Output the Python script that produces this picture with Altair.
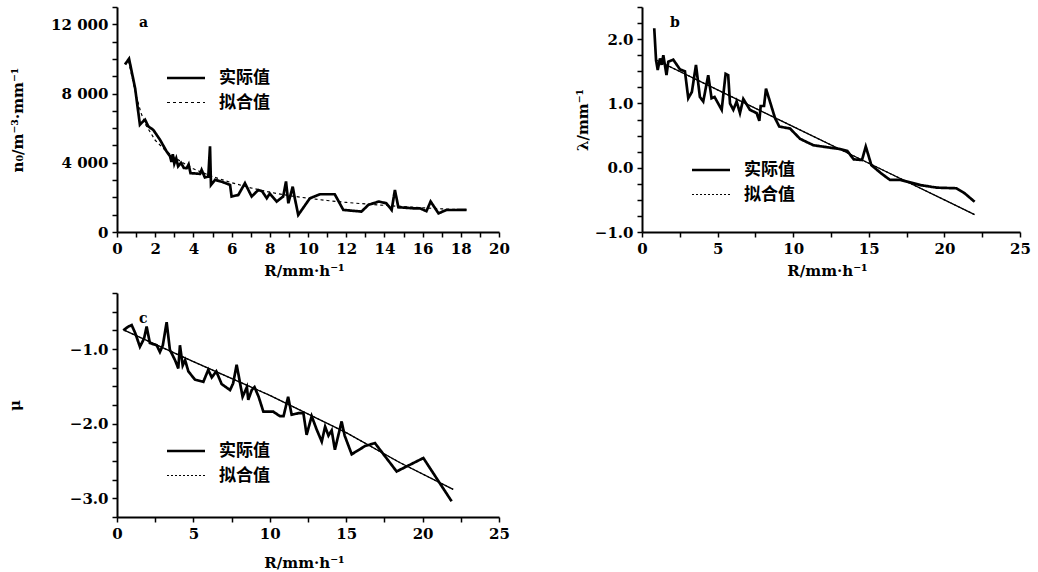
import altair as alt
import pandas as pd

ACT = "实际值"
FIT = "拟合值"

# ---- panel a : n0 vs R ----
a_R = [0.42, 0.63, 0.95, 1.2, 1.33, 1.47, 1.64, 1.9, 2.25, 2.6, 2.78, 2.85, 2.92, 3.0, 3.1, 3.2, 3.35, 3.5, 3.65, 3.75,
       3.85, 4.35, 4.43, 4.6, 4.78, 4.87, 4.92, 5.13, 5.5, 5.92, 6.0, 6.35, 6.7, 7.05, 7.4, 7.6, 7.84, 8.0, 8.36, 8.7,
       8.85, 8.97, 9.2, 9.3, 9.49, 10.1, 10.63, 11.4, 11.85, 12.8, 13.16, 13.7, 14.1, 14.38, 14.55, 14.73, 15.5, 15.86,
       16.2, 16.42, 16.83, 17.25, 18.3]
a_n0 = [9680, 10010, 8300, 6200, 6350, 6490, 6100, 5900, 5330, 4650, 4370, 4050, 4500, 3950, 4250, 3800, 4000, 3700,
        3690, 3900, 3400, 3360, 3590, 3150, 3200, 4950, 2720, 3010, 2900, 2720, 2050, 2140, 2820, 2050, 2430, 2350,
        1950, 2220, 1760, 2050, 2920, 1660, 2620, 2000, 985, 1950, 2180, 2180, 1275, 1180, 1565, 1760, 1660, 1275,
        2430, 1430, 1370, 1370, 1200, 1760, 1080, 1270, 1275]
a_fit_R = [0.6, 0.8, 1.0, 1.25, 1.5, 2.0, 2.5, 3, 4, 5, 6, 7, 8, 9, 10, 11, 12, 13, 14, 15, 16, 17, 18.3]
a_fit_n0 = [9900, 8900, 7900, 6900, 6200, 5300, 4750, 4300, 3650, 3200, 2850, 2550, 2300, 2100, 1950, 1820, 1710,
            1620, 1540, 1470, 1400, 1340, 1280]

# ---- panel b : lambda vs R ----
b_R = [0.81, 0.93, 1.04, 1.19, 1.3, 1.41, 1.62, 1.74, 2.07, 2.51, 2.84, 3.06, 3.3, 3.57, 3.83, 4.05, 4.38, 4.6, 4.8,
       5.27, 5.53, 5.7, 5.82, 6.04, 6.26, 6.48, 6.7, 7.14, 7.58, 7.76, 7.85, 8.07, 8.2, 8.8, 9.08, 9.79, 10.45, 11.33,
       12.2, 13.1, 13.58, 14.0, 14.55, 14.8, 15.17, 15.83, 16.4, 17.1, 18.4, 19.5, 20.8, 21.35, 22.0]
b_lam = [2.17, 1.67, 1.52, 1.70, 1.60, 1.75, 1.44, 1.65, 1.68, 1.53, 1.50, 1.08, 1.18, 1.60, 1.10, 1.03, 1.44, 1.08,
         1.10, 0.90, 1.46, 1.44, 1.00, 0.90, 1.03, 0.85, 1.07, 0.90, 0.85, 0.73, 0.96, 0.96, 1.23, 0.77, 0.64, 0.61,
         0.45, 0.35, 0.32, 0.29, 0.26, 0.13, 0.12, 0.33, 0.04, -0.09, -0.19, -0.19, -0.27, -0.31, -0.32, -0.40, -0.53]
b_fit_R = [0.9, 5, 10, 15, 20, 22]
b_fit_lam = [1.68, 1.21, 0.64, 0.07, -0.50, -0.73]

# ---- panel c : mu vs R ----
c_R = [0.41, 0.74, 0.96, 1.2, 1.5, 1.77, 1.94, 2.15, 2.6, 2.81, 3.0, 3.25, 3.46, 3.8, 4.01, 4.12, 4.3, 4.46, 4.67,
       5.1, 5.65, 5.97, 6.2, 6.5, 6.85, 7.4, 7.6, 7.83, 8.22, 8.5, 8.59, 8.82, 9.0, 9.27, 9.58, 10.23, 10.67, 10.9,
       11.2, 11.43, 11.87, 12.2, 12.41, 12.74, 13.07, 13.4, 13.62, 13.84, 14.05, 14.26, 14.7, 14.9, 15.36, 16.23,
       16.88, 18.3, 20.05, 21.9]
c_mu = [-0.75, -0.70, -0.68, -0.79, -0.97, -0.86, -0.70, -0.92, -0.95, -1.04, -0.95, -0.64, -1.01, -1.15, -1.26,
        -0.95, -1.22, -1.15, -1.30, -1.41, -1.44, -1.28, -1.38, -1.30, -1.47, -1.55, -1.46, -1.21, -1.64, -1.51,
        -1.68, -1.55, -1.51, -1.64, -1.84, -1.84, -1.90, -1.90, -1.64, -1.88, -1.86, -1.86, -2.15, -1.90, -2.08,
        -2.24, -2.04, -2.16, -2.09, -2.35, -1.97, -2.16, -2.41, -2.30, -2.26, -2.64, -2.46, -3.04]
c_fit_R = [0.5, 5, 10, 15, 18.5, 22]
c_fit_mu = [-0.75, -1.17, -1.62, -2.12, -2.52, -2.88]

# axis tick values
a_xticks = list(range(0, 21))
a_yticks = list(range(0, 13001, 1000))
bc_xticks = [i * 2.5 for i in range(0, 11)]
b_yticks = [-1.0 + 0.25 * i for i in range(0, 15)]
c_yticks = [-3.25 + 0.25 * i for i in range(0, 13)]

SERIF = "DejaVu Serif"
CJK = "Noto Sans CJK SC"


def make_df(xa, ya, xf, yf):
    return pd.DataFrame({
        "R": list(xa) + list(xf),
        "v": list(ya) + list(yf),
        "s": [ACT] * len(xa) + [FIT] * len(xf),
    })


def panel(df, letter, w, h, xdom, xvals, xlabel_expr, ydom, yvals, ylabel_expr, ytitle, ytitle_x,
          leg_x, leg_y, fit_dash, solid_fit, tag_x, tag_y, xtitle_y):
    legend = alt.Legend(
        title=None, orient="none", legendX=leg_x, legendY=leg_y,
        symbolType="M-2,0H2", symbolSize=361, symbolStrokeColor="black",
        labelFont=CJK, labelFontWeight="bold", labelFontSize=17, labelColor="black",
        labelOffset=22, rowPadding=6, padding=0,
    )
    xenc = alt.X("R:Q", scale=alt.Scale(domain=xdom, nice=False, zero=False),
                 axis=alt.Axis(values=xvals, labelExpr=xlabel_expr, title="R/mm·h⁻¹",
                               titleX=w / 2 - 4, titleY=xtitle_y, titleBaseline="middle",
                               labelOverlap=False, labelFlush=False))
    yenc = alt.Y("v:Q", scale=alt.Scale(domain=ydom, nice=False, zero=False),
                 axis=alt.Axis(values=yvals, labelExpr=ylabel_expr, title=ytitle,
                               titleX=ytitle_x, titleY=h / 2, titleAngle=270, titleAlign="center",
                               titleBaseline="middle", labelOverlap=False, labelFlush=False))
    lines = alt.Chart(df).mark_line(color="black").encode(
        x=xenc, y=yenc,
        strokeDash=alt.StrokeDash("s:N", scale=alt.Scale(domain=[ACT, FIT], range=[[1, 0], fit_dash]),
                                  legend=legend),
        strokeWidth=alt.StrokeWidth("s:N", scale=alt.Scale(domain=[ACT, FIT], range=[2.7, 1.2]),
                                    legend=legend),
    )
    layers = [lines]
    if solid_fit:
        fit_only = alt.Chart(df).transform_filter(alt.datum.s == FIT).mark_line(
            color="black", strokeWidth=1.3).encode(x=xenc, y=yenc)
        layers.append(fit_only)
    tag = alt.Chart(pd.DataFrame({"t": [letter]})).mark_text(
        font=SERIF, fontWeight="bold", fontSize=14, align="left", baseline="middle", color="black"
    ).encode(x=alt.value(tag_x), y=alt.value(tag_y), text="t:N")
    layers.append(tag)
    return alt.layer(*layers).properties(width=w, height=h)


df_a = make_df(a_R, a_n0, a_fit_R, a_fit_n0)
df_b = make_df(b_R, b_lam, b_fit_R, b_fit_lam)
df_c = make_df(c_R, c_mu, c_fit_R, c_fit_mu)

maj1 = "abs(datum.value - round(datum.value)) < 0.001 ? format(datum.value, '.1f') : ''"

pa = panel(df_a, "a", 382, 225, [0, 20], a_xticks, "datum.value % 2 === 0 ? datum.label : ''",
           [0, 13000], a_yticks,
           "datum.value % 4000 === 0 ? replace(format(datum.value, ','), ',', ' ') : ''",
           "n₀/m⁻³·mm⁻¹", -100, 58, 60, [3, 3], False, 22, 16, 38)
pb = panel(df_b, "b", 378, 225, [0, 25], bc_xticks, "datum.value % 5 === 0 ? datum.label : ''",
           [-1, 2.5], b_yticks, maj1, "λ/mm⁻¹", -60, 58, 152, [2, 2], True, 28, 16, 38)
pc = panel(df_c, "c", 382, 224, [0, 25], bc_xticks, "datum.value % 5 === 0 ? datum.label : ''",
           [-3.25, -0.25], c_yticks, maj1, "μ", -103, 58, 147, [2, 2], True, 22, 26, 45)

chart = alt.concat(pa, pb, pc, columns=2, spacing={"row": 61, "column": 143}, bounds="flush").resolve_scale(
    strokeDash="independent", strokeWidth="independent").resolve_legend(
    strokeDash="independent", strokeWidth="independent").properties(
    padding={"left": 7, "top": 0, "right": 5, "bottom": 5}, background="white"
).configure_view(stroke=None).configure_axis(
    domainColor="black", domainWidth=2, tickColor="black", tickWidth=1.5, tickSize=5,
    labelFont=SERIF, labelFontWeight="bold", labelFontSize=15, labelColor="black", labelPadding=4,
    titleFont=SERIF, titleFontWeight="bold", titleFontSize=15, titleColor="black", grid=False,
)

chart.save("out.html", embed_options={"renderer": "svg", "actions": False})
